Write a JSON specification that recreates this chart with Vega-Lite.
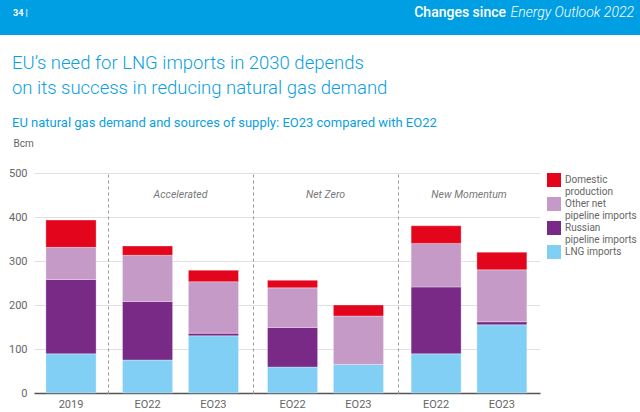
{
  "$schema": "https://vega.github.io/schema/vega-lite/v6.json",
  "padding": 0,
  "background": "white",
  "config": {
    "font": "Roboto",
    "view": {"stroke": null},
    "axis": {"labelFont": "Roboto", "labelColor": "#666666", "labelFontSize": 11, "titleFont": "Roboto"},
    "legend": {"labelFont": "Roboto"}
  },
  "datasets": {
    "supply": [
      {"scenario": "2019", "case": "2019", "source": "LNG imports", "value": 89},
      {"scenario": "2019", "case": "2019", "source": "Russian pipeline imports", "value": 169},
      {"scenario": "2019", "case": "2019", "source": "Other net pipeline imports", "value": 73},
      {"scenario": "2019", "case": "2019", "source": "Domestic production", "value": 62},
      {"scenario": "Accelerated", "case": "EO22", "source": "LNG imports", "value": 75},
      {"scenario": "Accelerated", "case": "EO22", "source": "Russian pipeline imports", "value": 133},
      {"scenario": "Accelerated", "case": "EO22", "source": "Other net pipeline imports", "value": 105},
      {"scenario": "Accelerated", "case": "EO22", "source": "Domestic production", "value": 21},
      {"scenario": "Accelerated", "case": "EO23", "source": "LNG imports", "value": 130},
      {"scenario": "Accelerated", "case": "EO23", "source": "Russian pipeline imports", "value": 6},
      {"scenario": "Accelerated", "case": "EO23", "source": "Other net pipeline imports", "value": 117},
      {"scenario": "Accelerated", "case": "EO23", "source": "Domestic production", "value": 26},
      {"scenario": "Net Zero", "case": "EO22", "source": "LNG imports", "value": 59},
      {"scenario": "Net Zero", "case": "EO22", "source": "Russian pipeline imports", "value": 90},
      {"scenario": "Net Zero", "case": "EO22", "source": "Other net pipeline imports", "value": 90},
      {"scenario": "Net Zero", "case": "EO22", "source": "Domestic production", "value": 17},
      {"scenario": "Net Zero", "case": "EO23", "source": "LNG imports", "value": 65},
      {"scenario": "Net Zero", "case": "EO23", "source": "Russian pipeline imports", "value": 0},
      {"scenario": "Net Zero", "case": "EO23", "source": "Other net pipeline imports", "value": 110},
      {"scenario": "Net Zero", "case": "EO23", "source": "Domestic production", "value": 25},
      {"scenario": "New Momentum", "case": "EO22", "source": "LNG imports", "value": 89},
      {"scenario": "New Momentum", "case": "EO22", "source": "Russian pipeline imports", "value": 152},
      {"scenario": "New Momentum", "case": "EO22", "source": "Other net pipeline imports", "value": 99},
      {"scenario": "New Momentum", "case": "EO22", "source": "Domestic production", "value": 40},
      {"scenario": "New Momentum", "case": "EO23", "source": "LNG imports", "value": 155},
      {"scenario": "New Momentum", "case": "EO23", "source": "Russian pipeline imports", "value": 7},
      {"scenario": "New Momentum", "case": "EO23", "source": "Other net pipeline imports", "value": 118},
      {"scenario": "New Momentum", "case": "EO23", "source": "Domestic production", "value": 40}
    ]
  },
  "columns": 1,
  "align": "none",
  "spacing": 18,
  "resolve": {"scale": {"color": "independent"}, "legend": {"color": "independent"}},
  "concat": [
    {
      "width": 640,
      "height": 35,
      "view": {"fill": "#009fe3", "stroke": null},
      "data": {"values": [{"page": "34  |", "pre": "Changes since", "ital": "Energy Outlook 2022"}]},
      "layer": [
        {
          "mark": {"type": "text", "x": 0, "dx": 13, "align": "left", "baseline": "alphabetic", "dy": -1.5, "fontSize": 9, "fontWeight": "bold", "color": "white"},
          "encoding": {"text": {"field": "page"}}
        },
        {
          "mark": {"type": "text", "x": "width", "dx": -6, "align": "right", "baseline": "alphabetic", "dy": -1, "fontSize": 14, "fontStyle": "italic", "fontWeight": 300, "color": "white"},
          "encoding": {"text": {"field": "ital"}}
        },
        {
          "mark": {"type": "text", "x": "width", "dx": -134, "align": "right", "baseline": "alphabetic", "dy": -1, "fontSize": 14, "fontWeight": 500, "color": "white"},
          "encoding": {"text": {"field": "pre"}}
        }
      ]
    },
    {
      "title": {
        "text": ["EU’s need for LNG imports in 2030 depends", "on its success in reducing natural gas demand"],
        "subtitle": "EU natural gas demand and sources of supply: EO23 compared with EO22",
        "anchor": "start",
        "dx": 12,
        "font": "Roboto",
        "fontSize": 18.5,
        "fontWeight": 300,
        "lineHeight": 25,
        "color": "#0a9fe0",
        "subtitleFont": "Roboto",
        "subtitleFontSize": 13,
        "subtitleColor": "#0a9fe0",
        "subtitlePadding": 20,
        "offset": 8
      },
      "spacing": 0,
      "resolve": {"scale": {"x": "independent", "y": "shared", "color": "shared"}, "axis": {"y": "independent", "x": "independent"}},
      "hconcat": [
        {
          "width": 33,
          "height": 220,
          "data": {"name": "supply"},
          "mark": {"type": "tick", "opacity": 0},
          "encoding": {
            "y": {"field": "value", "type": "quantitative",
              "scale": {"domain": [0, 500]},
              "axis": {"orient": "right", "values": [0, 100, 200, 300, 400, 500], "labelAlign": "right", "labelPadding": -6, "grid": false, "domain": false, "ticks": false,
                "title": "Bcm", "titleAngle": 0, "titleAlign": "left", "titleBaseline": "alphabetic", "titleX": -20, "titleY": -27, "titleFontSize": 10, "titleFontWeight": "normal", "titleColor": "#666666"}}
          }
        },
        {
          "width": 74,
          "height": 220,
          "data": {"name": "supply"},
          "transform": [{"filter": "datum.scenario == '2019'"}, {"calculate": "indexof(['LNG imports', 'Russian pipeline imports', 'Other net pipeline imports', 'Domestic production'], datum.source)", "as": "stackOrder"}],
          "mark": {"type": "bar", "stroke": "white", "strokeWidth": 0.5, "strokeOpacity": 0.6},
          "encoding": {
            "x": {"field": "case", "type": "nominal", "title": null,
              "scale": {"paddingInner": 0.24, "paddingOuter": 0.18},
              "axis": {"labelAngle": 0, "ticks": false, "domainColor": "#555555", "domainWidth": 1.5, "labelPadding": 5}},
            "y": {"field": "value", "type": "quantitative", "stack": true,
              "scale": {"domain": [0, 500]},
              "axis": {"values": [0, 100, 200, 300, 400, 500], "title": null, "labels": false, "domain": false, "ticks": false, "gridColor": "#e0e0e0"}},
            "order": {"field": "stackOrder", "type": "quantitative", "sort": "ascending"},
            "color": {"field": "source", "type": "nominal",
              "scale": {"domain": ["Domestic production", "Other net pipeline imports", "Russian pipeline imports", "LNG imports"], "range": ["#e3051b", "#c69ac7", "#782a86", "#81cff4"]},
              "legend": {"title": null,
                "symbolType": "square", "symbolSize": 196, "symbolStrokeWidth": 0, "labelFontSize": 10, "labelColor": "#666666", "offset": 7, "padding": 0, "rowPadding": -1,
                "labelExpr": "datum.label == 'Domestic production' ? ['Domestic', 'production'] : datum.label == 'Other net pipeline imports' ? ['Other net', 'pipeline imports'] : datum.label == 'Russian pipeline imports' ? ['Russian', 'pipeline imports'] : datum.label"}}
          }
        },
        {
          "width": 145,
          "height": 220,
          "layer": [
            {
              "data": {"name": "supply"},
              "transform": [{"filter": "datum.scenario == 'Accelerated'"}, {"calculate": "indexof(['LNG imports', 'Russian pipeline imports', 'Other net pipeline imports', 'Domestic production'], datum.source)", "as": "stackOrder"}],
              "mark": {"type": "bar", "stroke": "white", "strokeWidth": 0.5, "strokeOpacity": 0.6},
              "encoding": {
                "x": {"field": "case", "type": "nominal", "title": null,
                  "scale": {"paddingInner": 0.24, "paddingOuter": 0.22},
                  "axis": {"labelAngle": 0, "ticks": false, "domainColor": "#555555", "domainWidth": 1.5, "labelPadding": 5}},
                "y": {"field": "value", "type": "quantitative", "stack": true,
                  "scale": {"domain": [0, 500]},
                  "axis": {"values": [0, 100, 200, 300, 400, 500], "title": null, "labels": false, "ticks": false, "domain": true, "domainDash": [3, 3], "domainColor": "#999999", "gridColor": "#e0e0e0"}},
                "order": {"field": "stackOrder", "type": "quantitative", "sort": "ascending"},
                "color": {"field": "source", "type": "nominal"}
              }
            },
            {
              "data": {"values": [{"label": "Accelerated"}]},
              "mark": {"type": "text", "fontStyle": "italic", "fontSize": 10.5, "color": "#777777"},
              "encoding": {"text": {"field": "label"}, "y": {"datum": 449, "type": "quantitative"}}
            }
          ]
        },
        {
          "width": 145,
          "height": 220,
          "layer": [
            {
              "data": {"name": "supply"},
              "transform": [{"filter": "datum.scenario == 'Net Zero'"}, {"calculate": "indexof(['LNG imports', 'Russian pipeline imports', 'Other net pipeline imports', 'Domestic production'], datum.source)", "as": "stackOrder"}],
              "mark": {"type": "bar", "stroke": "white", "strokeWidth": 0.5, "strokeOpacity": 0.6},
              "encoding": {
                "x": {"field": "case", "type": "nominal", "title": null,
                  "scale": {"paddingInner": 0.24, "paddingOuter": 0.22},
                  "axis": {"labelAngle": 0, "ticks": false, "domainColor": "#555555", "domainWidth": 1.5, "labelPadding": 5}},
                "y": {"field": "value", "type": "quantitative", "stack": true,
                  "scale": {"domain": [0, 500]},
                  "axis": {"values": [0, 100, 200, 300, 400, 500], "title": null, "labels": false, "ticks": false, "domain": true, "domainDash": [3, 3], "domainColor": "#999999", "gridColor": "#e0e0e0"}},
                "order": {"field": "stackOrder", "type": "quantitative", "sort": "ascending"},
                "color": {"field": "source", "type": "nominal"}
              }
            },
            {
              "data": {"values": [{"label": "Net Zero"}]},
              "mark": {"type": "text", "fontStyle": "italic", "fontSize": 10.5, "color": "#777777"},
              "encoding": {"text": {"field": "label"}, "y": {"datum": 449, "type": "quantitative"}}
            }
          ]
        },
        {
          "width": 142,
          "height": 220,
          "layer": [
            {
              "data": {"name": "supply"},
              "transform": [{"filter": "datum.scenario == 'New Momentum'"}, {"calculate": "indexof(['LNG imports', 'Russian pipeline imports', 'Other net pipeline imports', 'Domestic production'], datum.source)", "as": "stackOrder"}],
              "mark": {"type": "bar", "stroke": "white", "strokeWidth": 0.5, "strokeOpacity": 0.6},
              "encoding": {
                "x": {"field": "case", "type": "nominal", "title": null,
                  "scale": {"paddingInner": 0.24, "paddingOuter": 0.2},
                  "axis": {"labelAngle": 0, "ticks": false, "domainColor": "#555555", "domainWidth": 1.5, "labelPadding": 5}},
                "y": {"field": "value", "type": "quantitative", "stack": true,
                  "scale": {"domain": [0, 500]},
                  "axis": {"values": [0, 100, 200, 300, 400, 500], "title": null, "labels": false, "ticks": false, "domain": true, "domainDash": [3, 3], "domainColor": "#999999", "gridColor": "#e0e0e0"}},
                "order": {"field": "stackOrder", "type": "quantitative", "sort": "ascending"},
                "color": {"field": "source", "type": "nominal"}
              }
            },
            {
              "data": {"values": [{"label": "New Momentum"}]},
              "mark": {"type": "text", "fontStyle": "italic", "fontSize": 10.5, "color": "#777777"},
              "encoding": {"text": {"field": "label"}, "y": {"datum": 449, "type": "quantitative"}}
            }
          ]
        }
      ]
    }
  ]
}
